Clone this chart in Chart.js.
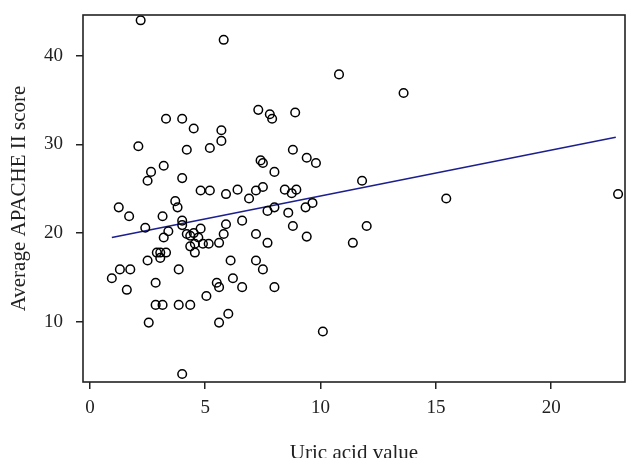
<!DOCTYPE html>
<html>
<head>
<meta charset="utf-8">
<script src="https://cdn.jsdelivr.net/npm/chart.js@4"></script>
<style>
html,body{margin:0;padding:0;background:#fff;}
#wrap{width:640px;height:458px;}
</style>
</head>
<body>
<div id="wrap"><canvas id="c" width="640" height="458"></canvas></div>
<script>
const uricAcid = [2.2,5.8,7.3,7.8,7.9,3.3,4.0,4.5,5.7,5.7,2.1,4.2,5.2,7.4,7.5,8.0,3.2,2.65,2.5,4.0,
  4.8,5.2,5.9,6.4,7.2,7.5,6.9,3.7,1.25,1.7,3.8,3.15,2.4,4.0,4.0,3.4,4.8,4.2,4.35,4.5,
  4.7,3.2,4.55,4.35,4.9,5.15,5.6,4.55,5.8,5.9,6.6,7.2,7.7,8.0,7.7,2.9,3.05,3.3,3.05,2.5,
  1.3,1.75,3.85,0.95,1.6,2.85,6.1,7.2,7.5,5.5,5.6,6.2,6.6,8.0,5.05,2.85,3.15,3.85,4.35,6.0,
  2.55,5.6,4.0,8.9,10.8,13.6,8.8,9.4,9.8,11.8,8.45,8.75,8.95,15.45,8.6,9.35,9.65,8.8,9.4,12.0,
  11.4,10.1,22.9];
const apacheScore = [44,41.8,33.9,33.4,32.9,32.9,32.9,31.8,31.6,30.4,29.8,29.4,29.6,28.2,27.9,26.9,27.6,26.9,25.9,26.2,
  24.8,24.8,24.4,24.9,24.8,25.2,23.9,23.6,22.9,21.9,22.9,21.9,20.6,21.4,20.9,20.2,20.5,19.9,19.7,20.0,
  19.5,19.5,18.8,18.5,18.8,18.8,18.9,17.8,19.9,21.0,21.4,19.9,22.5,22.9,18.9,17.8,17.8,17.8,17.2,16.9,
  15.9,15.9,15.9,14.9,13.6,14.4,16.9,16.9,15.9,14.4,13.9,14.9,13.9,13.9,12.9,11.9,11.9,11.9,11.9,10.9,
  9.9,9.9,4.1,33.6,37.9,35.8,29.4,28.5,27.9,25.9,24.9,24.5,24.9,23.9,22.3,22.9,23.4,20.8,19.6,20.8,
  18.9,8.9,24.4];
const fitX = [0.95, 22.8];
const fitY = [19.5, 30.8];
const xTicks = [0,5,10,15,20];
const yTicks = [10,20,30,40];

const pts = uricAcid.map((x,i)=>({x:x,y:apacheScore[i]}));
const fit = fitX.map((x,i)=>({x:x,y:fitY[i]}));

const frame = {
  id:'frame',
  afterDraw(chart){
    const a = chart.chartArea, ctx = chart.ctx;
    ctx.save();
    ctx.strokeStyle = '#222';
    ctx.lineWidth = 1.6;
    ctx.strokeRect(a.left, a.top, a.right-a.left, a.bottom-a.top);
    ctx.restore();
  }
};

const serif = "'Liberation Serif', 'DejaVu Serif', serif";
new Chart(document.getElementById('c'), {
  type:'scatter',
  data:{datasets:[
    {data:fit, type:'line', showLine:true, borderColor:'#1c1f8f', borderWidth:1.6, pointRadius:0, fill:false, order:2},
    {data:pts, pointStyle:'circle', pointRadius:4.3, borderColor:'#000', backgroundColor:'rgba(0,0,0,0)', borderWidth:1.5, order:1}
  ]},
  options:{
    responsive:false, animation:false,
    layout:{padding:{top:15,right:15,left:0,bottom:0}},
    plugins:{legend:{display:false}, tooltip:{enabled:false}},
    scales:{
      x:{type:'linear', min:-0.3, max:23.2,
        afterBuildTicks(s){ s.ticks = xTicks.map(v=>({value:v})); },
        afterFit(s){ s.height = 76; s.paddingLeft = 0; s.paddingRight = 0; },
        grid:{display:true, drawOnChartArea:false, drawTicks:true, tickLength:7, color:'#222', lineWidth:1.5},
        border:{display:false},
        ticks:{color:'#222', font:{family:serif, size:19}, padding:8, maxRotation:0},
        title:{display:true, text:'Uric acid value', color:'#222', font:{family:serif, size:21}, padding:{top:0,bottom:-8}}
      },
      y:{type:'linear', min:3.2, max:44.6,
        afterBuildTicks(s){ s.ticks = yTicks.map(v=>({value:v})); },
        afterFit(s){ s.width = 83; s.paddingTop = 0; s.paddingBottom = 0; },
        grid:{display:true, drawOnChartArea:false, drawTicks:true, tickLength:7, color:'#222', lineWidth:1.5},
        border:{display:false},
        ticks:{color:'#222', font:{family:serif, size:19}, padding:13},
        title:{display:true, text:'Average APACHE II score', color:'#222', font:{family:serif, size:21}, padding:{top:7,bottom:0}}
      }
    }
  },
  plugins:[frame]
});
</script>
</body>
</html>
